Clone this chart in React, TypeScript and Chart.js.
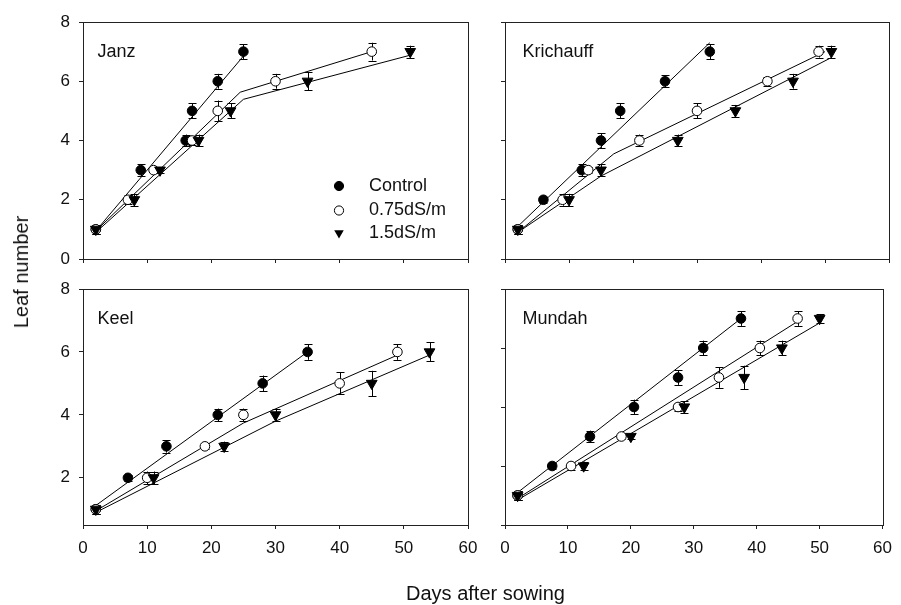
import React, { useEffect, useRef } from 'react';
import { Chart, registerables } from 'chart.js';
Chart.register(...registerables);

const FONT = '"Liberation Sans", Arial, Helvetica, sans-serif';
const INK = '#111';

// ---------- Axis ticks ----------
const xTicks = [0, 10, 20, 30, 40, 50, 60];
const yTicksTop = [0, 2, 4, 6, 8];
const yTicksKeel = [2, 4, 6, 8];
const yTicksMundah = [0, 2, 4, 6, 8];

// ---------- Janz ----------
const janzControlX = [2, 9, 16, 17, 21, 25];
const janzControlY = [1, 3, 4, 5, 6, 7];
const janzControlErr = [0.15, 0.2, 0.2, 0.25, 0.25, 0.25];
const janzMidX = [2, 7, 11, 17, 21, 30, 45];
const janzMidY = [1, 2, 3, 4, 5, 6, 7];
const janzMidErr = [0.15, 0.15, 0.1, 0.15, 0.35, 0.25, 0.3];
const janzHighX = [2, 8, 12, 18, 23, 35, 51];
const janzHighY = [1, 2, 3, 4, 5, 6, 7];
const janzHighErr = [0.15, 0.2, 0.1, 0.2, 0.25, 0.3, 0.2];
const janzControlFitX = [2, 25];
const janzControlFitY = [0.95, 6.85];
const janzMidFitX = [2, 24.5, 45];
const janzMidFitY = [0.95, 5.63, 7.0];
const janzHighFitX = [2, 25, 51];
const janzHighFitY = [0.9, 5.39, 6.88];

// ---------- Krichauff ----------
const kriControlX = [2, 6, 12, 15, 18, 25, 32];
const kriControlY = [1, 2, 3, 4, 5, 6, 7];
const kriControlErr = [0.15, 0.1, 0.2, 0.25, 0.25, 0.2, 0.25];
const kriMidX = [2, 9, 13, 21, 30, 41, 49];
const kriMidY = [1, 2, 3, 4, 5, 6, 7];
const kriMidErr = [0.15, 0.2, 0.1, 0.2, 0.25, 0.15, 0.2];
const kriHighX = [2, 10, 15, 27, 36, 45, 51];
const kriHighY = [1, 2, 3, 4, 5, 6, 7];
const kriHighErr = [0.15, 0.2, 0.2, 0.2, 0.2, 0.25, 0.2];
const kriControlFitX = [2, 32];
const kriControlFitY = [1.1, 7.3];
const kriMidFitX = [2, 17, 50];
const kriMidFitY = [0.9, 3.55, 7.0];
const kriHighFitX = [2, 15, 51];
const kriHighFitY = [0.9, 2.8, 6.8];

// ---------- Keel ----------
const keelControlX = [2, 7, 13, 21, 28, 35];
const keelControlY = [1, 2, 3, 4, 5, 6];
const keelControlErr = [0.15, 0.1, 0.2, 0.2, 0.25, 0.25];
const keelMidX = [2, 10, 19, 25, 40, 49];
const keelMidY = [1, 2, 3, 4, 5, 6];
const keelMidErr = [0.15, 0.2, 0.1, 0.2, 0.35, 0.25];
const keelHighX = [2, 11, 22, 30, 45, 54];
const keelHighY = [1, 2, 3, 4, 5, 6];
const keelHighErr = [0.15, 0.2, 0.15, 0.2, 0.4, 0.3];
const keelControlFitX = [2, 35];
const keelControlFitY = [1.12, 6.0];
const keelMidFitX = [2, 25, 49];
const keelMidFitY = [0.95, 3.74, 5.9];
const keelHighFitX = [2, 30, 54];
const keelHighFitY = [0.9, 3.8, 5.9];

// ---------- Mundah ----------
const munControlX = [2, 7.5, 13.5, 20.5, 27.5, 31.5, 37.5];
const munControlY = [1, 2, 3, 4, 5, 6, 7];
const munControlErr = [0.15, 0.1, 0.2, 0.25, 0.25, 0.25, 0.25];
const munMidX = [2, 10.5, 18.5, 27.5, 34, 40.5, 46.5];
const munMidY = [1, 2, 3, 4, 5, 6, 7];
const munMidErr = [0.15, 0.15, 0.1, 0.15, 0.35, 0.25, 0.25];
const munHighX = [2, 12.5, 20, 28.5, 38, 44, 50];
const munHighY = [1, 2, 3, 4, 5, 6, 7];
const munHighErr = [0.15, 0.15, 0.1, 0.2, 0.4, 0.25, 0.15];
const munControlFitX = [2, 37.5];
const munControlFitY = [1.1, 7.0];
const munMidFitX = [2, 46.5];
const munMidFitY = [0.9, 6.9];
const munHighFitX = [2, 50];
const munHighFitY = [0.85, 6.85];

const seriesNames = ['Control', '0.75dS/m', '1.5dS/m'];

type Series = { x: number[]; y: number[]; err: number[]; fx: number[]; fy: number[] };

const zip = (xs: number[], ys: number[]) => xs.map((x, i) => ({ x, y: ys[i] }));

function drawMarker(ctx: CanvasRenderingContext2D, kind: number, cx: number, cy: number, r: number) {
  ctx.save();
  ctx.lineWidth = 1;
  ctx.strokeStyle = '#000';
  ctx.beginPath();
  if (kind === 2) {
    const tr = r * 1.2;
    ctx.moveTo(cx, cy + tr);
    ctx.lineTo(cx - tr * 0.866, cy - tr * 0.5);
    ctx.lineTo(cx + tr * 0.866, cy - tr * 0.5);
    ctx.closePath();
    ctx.fillStyle = '#000';
    ctx.fill();
  } else {
    ctx.arc(cx, cy, r, 0, Math.PI * 2);
    ctx.fillStyle = kind === 0 ? '#000' : '#fff';
    ctx.fill();
    ctx.stroke();
  }
  ctx.restore();
}

type PanelCfg = {
  name: string;
  series: Series[];
  padding: { top: number; right: number; bottom: number; left: number };
  yWidth: number;
  xHeight: number;
  showX: boolean;
  showY: boolean;
  yMin: number;
  yTicks: number[];
  labelDx: number;
  legend: boolean;
};

const panels: PanelCfg[] = [
  {
    name: 'Janz',
    series: [
      { x: janzControlX, y: janzControlY, err: janzControlErr, fx: janzControlFitX, fy: janzControlFitY },
      { x: janzMidX, y: janzMidY, err: janzMidErr, fx: janzMidFitX, fy: janzMidFitY },
      { x: janzHighX, y: janzHighY, err: janzHighErr, fx: janzHighFitX, fy: janzHighFitY },
    ],
    padding: { top: 22, right: 433, bottom: 0, left: 0 },
    yWidth: 83, xHeight: 346, showX: false, showY: true, yMin: 0, yTicks: yTicksTop, labelDx: 14.5, legend: true,
  },
  {
    name: 'Krichauff',
    series: [
      { x: kriControlX, y: kriControlY, err: kriControlErr, fx: kriControlFitX, fy: kriControlFitY },
      { x: kriMidX, y: kriMidY, err: kriMidErr, fx: kriMidFitX, fy: kriMidFitY },
      { x: kriHighX, y: kriHighY, err: kriHighErr, fx: kriHighFitX, fy: kriHighFitY },
    ],
    padding: { top: 22, right: 12, bottom: 0, left: 480 },
    yWidth: 25, xHeight: 346, showX: false, showY: false, yMin: 0, yTicks: yTicksTop, labelDx: 17.5, legend: false,
  },
  {
    name: 'Keel',
    series: [
      { x: keelControlX, y: keelControlY, err: keelControlErr, fx: keelControlFitX, fy: keelControlFitY },
      { x: keelMidX, y: keelMidY, err: keelMidErr, fx: keelMidFitX, fy: keelMidFitY },
      { x: keelHighX, y: keelHighY, err: keelHighErr, fx: keelHighFitX, fy: keelHighFitY },
    ],
    padding: { top: 289, right: 433, bottom: 0, left: 0 },
    yWidth: 83, xHeight: 80, showX: true, showY: true, yMin: 0.5, yTicks: yTicksKeel, labelDx: 14.5, legend: false,
  },
  {
    name: 'Mundah',
    series: [
      { x: munControlX, y: munControlY, err: munControlErr, fx: munControlFitX, fy: munControlFitY },
      { x: munMidX, y: munMidY, err: munMidErr, fx: munMidFitX, fy: munMidFitY },
      { x: munHighX, y: munHighY, err: munHighErr, fx: munHighFitX, fy: munHighFitY },
    ],
    padding: { top: 289, right: 12, bottom: 0, left: 480 },
    yWidth: 25, xHeight: 80, showX: true, showY: false, yMin: 0, yTicks: yTicksMundah, labelDx: 17.5, legend: false,
  },
];

function Panel({ cfg }: { cfg: PanelCfg }) {
  const ref = useRef<HTMLCanvasElement | null>(null);
  useEffect(() => {
    if (!ref.current) return;
    const datasets: any[] = [];
    cfg.series.forEach((s, i) => {
      datasets.push({
        label: seriesNames[i] + ' fit',
        data: zip(s.fx, s.fy),
        showLine: true,
        borderColor: '#000',
        borderWidth: 1,
        pointRadius: 0,
        fill: false,
        order: 10,
      });
    });
    cfg.series.forEach((s, i) => {
      datasets.push({
        label: seriesNames[i],
        data: zip(s.x, s.y),
        errors: s.err,
        showLine: false,
        pointStyle: i === 2 ? 'triangle' : 'circle',
        pointRotation: i === 2 ? 180 : 0,
        pointRadius: i === 2 ? 6.2 : 4.8,
        pointBackgroundColor: i === 1 ? '#fff' : '#000',
        pointBorderColor: '#000',
        pointBorderWidth: 1,
        order: 3 - i,
      });
    });

    const errorBars = {
      id: 'errorBars',
      beforeDatasetsDraw(chart: any) {
        const ctx = chart.ctx;
        const xs = chart.scales.x;
        const ys = chart.scales.y;
        ctx.save();
        ctx.strokeStyle = '#000';
        ctx.lineWidth = 1;
        chart.data.datasets.forEach((ds: any) => {
          if (!ds.errors) return;
          ds.data.forEach((p: any, j: number) => {
            const e = ds.errors[j];
            const px = Math.round(xs.getPixelForValue(p.x)) + 0.5;
            const y1 = ys.getPixelForValue(p.y + e);
            const y2 = ys.getPixelForValue(p.y - e);
            ctx.beginPath();
            ctx.moveTo(px, y1);
            ctx.lineTo(px, y2);
            ctx.moveTo(px - 4, Math.round(y1) + 0.5);
            ctx.lineTo(px + 4, Math.round(y1) + 0.5);
            ctx.moveTo(px - 4, Math.round(y2) + 0.5);
            ctx.lineTo(px + 4, Math.round(y2) + 0.5);
            ctx.stroke();
          });
        });
        ctx.restore();
      },
    };

    const frame = {
      id: 'frame',
      afterDraw(chart: any) {
        const { left, right, top, bottom } = chart.chartArea;
        const ctx = chart.ctx;
        ctx.save();
        ctx.strokeStyle = '#222';
        ctx.lineWidth = 1;
        ctx.strokeRect(Math.round(left) + 0.5, Math.round(top) + 0.5, Math.round(right - left), Math.round(bottom - top));
        ctx.fillStyle = INK;
        ctx.font = `18px ${FONT}`;
        ctx.textBaseline = 'middle';
        ctx.textAlign = 'left';
        ctx.fillText(cfg.name, left + cfg.labelDx, top + 30);
        if (cfg.legend) {
          const lx = left + 256;
          const tx = left + 286;
          const rows = [top + 164, top + 188.5, top + 211];
          rows.forEach((ry, i) => {
            drawMarker(ctx, i, lx, ry, 4.6);
            ctx.fillStyle = INK;
            ctx.fillText(seriesNames[i], tx, ry);
          });
        }
        ctx.restore();
      },
    };

    const chart = new Chart(ref.current, {
      type: 'scatter',
      data: { datasets },
      plugins: [errorBars, frame],
      options: {
        responsive: false,
        animation: false,
        devicePixelRatio: 1,
        layout: { padding: cfg.padding },
        plugins: { legend: { display: false }, tooltip: { enabled: false } },
        scales: {
          x: {
            type: 'linear',
            min: 0,
            max: 60,
            afterBuildTicks: (s: any) => { s.ticks = xTicks.map((v) => ({ value: v })); },
            afterFit: (s: any) => { s.height = cfg.xHeight; },
            grid: { drawOnChartArea: false, drawTicks: true, tickLength: 4, color: '#222' },
            border: { display: false },
            ticks: {
              display: cfg.showX,
              color: INK,
              font: { family: FONT, size: 17 },
              padding: 9,
              maxRotation: 0,
              autoSkip: false,
            },
          },
          y: {
            type: 'linear',
            min: cfg.yMin,
            max: 8,
            afterBuildTicks: (s: any) => { s.ticks = cfg.yTicks.map((v) => ({ value: v })); },
            afterFit: (s: any) => { s.width = cfg.yWidth; },
            grid: { drawOnChartArea: false, drawTicks: true, tickLength: 4, color: '#222' },
            border: { display: false },
            ticks: {
              display: cfg.showY,
              color: INK,
              font: { family: FONT, size: 17 },
              padding: 9,
              autoSkip: false,
            },
          },
        },
      } as any,
    });
    return () => chart.destroy();
  }, [cfg]);
  return (
    <canvas
      ref={ref}
      width={901}
      height={605}
      style={{ position: 'absolute', left: 0, top: 0, width: 901, height: 605 }}
    />
  );
}

export default function App() {
  return (
    <div style={{ position: 'fixed', left: 0, top: 0, width: 901, height: 605, background: '#fff', overflow: 'hidden' }}>
      {panels.map((p) => (
        <Panel key={p.name} cfg={p} />
      ))}
      <div
        style={{
          position: 'absolute', left: 485.5, top: 593, transform: 'translate(-50%, -50%)',
          fontFamily: FONT, fontSize: 20, color: INK, whiteSpace: 'nowrap', lineHeight: 1,
        }}
      >
        Days after sowing
      </div>
      <div
        style={{
          position: 'absolute', left: 21, top: 272, transform: 'translate(-50%, -50%) rotate(-90deg)',
          fontFamily: FONT, fontSize: 20, color: INK, whiteSpace: 'nowrap', lineHeight: 1,
        }}
      >
        Leaf number
      </div>
    </div>
  );
}
